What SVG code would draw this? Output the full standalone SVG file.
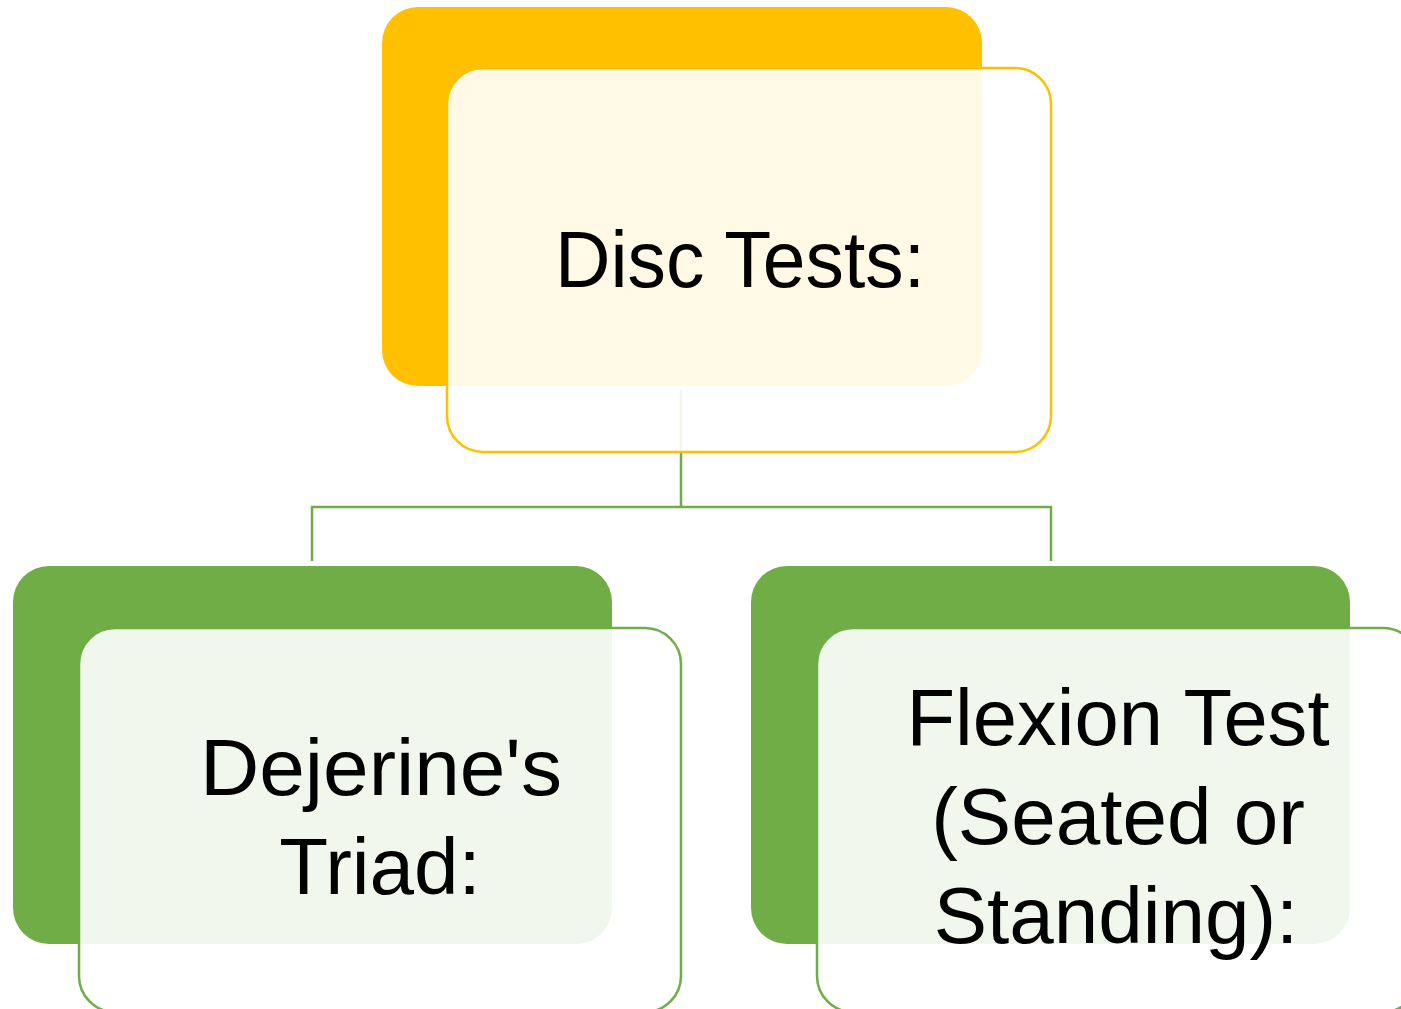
<svg xmlns="http://www.w3.org/2000/svg" width="1401" height="1009" viewBox="0 0 1401 1009">
  <style>
    .gold { fill: #FFC000; }
    .green { fill: #70AD47; }
    .card { fill: #FFFFFF; fill-opacity: 0.9; stroke-width: 2.5; }
    .card-gold { stroke: #FFC000; }
    .card-green { stroke: #70AD47; }
    .link { fill: none; stroke: #70AD47; stroke-width: 2.5; }
    .label { font-family: "Liberation Sans", Arial, sans-serif; font-size: 80px; fill: #000000; text-anchor: middle; }
  </style>
  <rect width="1401" height="1009" fill="#FFFFFF"/>

  <!-- Hierarchy connectors -->
  <g id="connectors">
    <path class="link" d="M681 390 V507 M312 561 V507 H1051 V561"/>
  </g>

  <!-- Root: Disc Tests -->
  <g id="node-disc-tests">
    <rect class="gold" x="382" y="7" width="600" height="379" rx="36" ry="36"/>
    <rect class="card card-gold" x="447" y="68" width="604" height="384" rx="36" ry="36"/>
    <text class="label" x="740" y="287" textLength="370" lengthAdjust="spacingAndGlyphs">Disc Tests:</text>
  </g>

  <!-- Child: Dejerine's Triad -->
  <g id="node-dejerine">
    <rect class="green" x="13" y="566" width="599" height="378" rx="36" ry="36"/>
    <rect class="card card-green" x="79" y="628" width="602" height="384" rx="36" ry="36"/>
    <text class="label" x="381" y="795" textLength="362" lengthAdjust="spacingAndGlyphs">Dejerine's</text>
    <text class="label" x="380" y="894">Triad:</text>
  </g>

  <!-- Child: Flexion Test -->
  <g id="node-flexion">
    <rect class="green" x="751" y="566" width="599" height="378" rx="36" ry="36"/>
    <rect class="card card-green" x="817" y="628" width="602" height="384" rx="36" ry="36"/>
    <text class="label" x="1118" y="745" textLength="423" lengthAdjust="spacingAndGlyphs">Flexion Test</text>
    <text class="label" x="1118" y="844">(Seated or</text>
    <text class="label" x="1116" y="943">Standing):</text>
  </g>
</svg>
